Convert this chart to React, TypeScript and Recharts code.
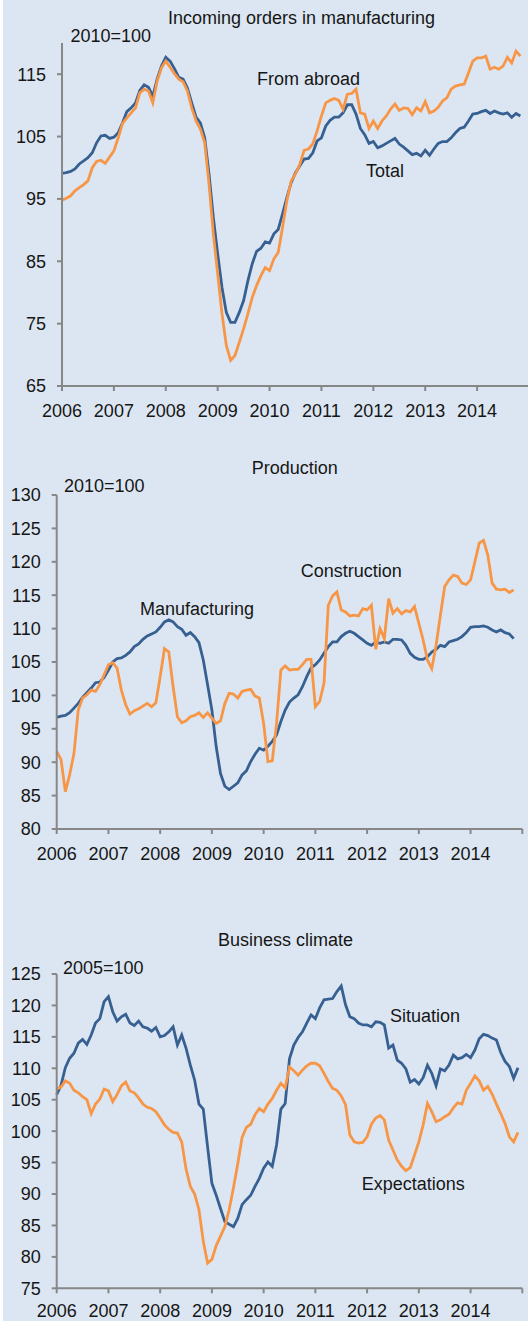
import React from "react";
import { LineChart, Line, XAxis, YAxis } from "recharts";

// monthly values, Jan 2006 onwards
const years = [2006, 2007, 2008, 2009, 2010, 2011, 2012, 2013, 2014, 2015];

const ordersTotal = [
  99.1, 99.2, 99.4, 99.8, 100.6, 101.1, 101.6, 102.4, 104.0, 105.1, 105.2, 104.7,
  104.9, 105.6, 107.2, 109.0, 109.6, 110.4, 112.4, 113.3, 112.9, 111.5, 114.2, 116.3,
  117.7, 117.1, 115.9, 114.5, 114.2, 112.8, 110.4, 108.1, 107.2, 104.8, 99.0, 92.0,
  86.2, 80.8, 76.8, 75.2, 75.2, 76.8, 78.7, 81.9, 84.6, 86.6, 87.1, 88.1,
  87.9, 89.4, 90.1, 92.6, 95.2, 97.6, 99.2, 100.3, 101.4, 101.5, 102.4, 104.3,
  104.8, 106.7, 107.6, 108.1, 108.1, 108.8, 110.1, 110.1, 108.6, 106.3, 105.3, 103.9,
  104.2, 103.2, 103.5, 103.9, 104.3, 104.7, 103.8, 103.3, 102.7, 102.1, 102.3, 101.9,
  102.8, 102.0, 103.0, 103.9, 104.2, 104.2, 104.8, 105.6, 106.3, 106.5, 107.5, 108.6,
  108.7, 109.0, 109.2, 108.7, 109.1, 108.8, 108.6, 108.8, 108.1, 108.7, 108.3,
];
const ordersAbroad = [
  94.8, 95.1, 95.5, 96.3, 96.8, 97.3, 97.9, 100.0, 101.0, 101.2, 100.7, 101.7,
  102.7, 104.8, 107.1, 108.0, 108.8, 109.6, 112.0, 112.6, 112.3, 110.4, 113.9, 116.0,
  117.1, 116.1, 115.1, 114.2, 113.8, 112.3, 109.6, 107.5, 106.2, 104.0, 97.4, 89.4,
  83.0, 76.6, 71.5, 69.1, 69.9, 72.0, 74.2, 76.6, 79.2, 81.1, 82.7, 84.0,
  83.5, 85.4, 86.4, 90.4, 94.7, 97.9, 99.0, 100.6, 102.8, 103.0, 103.8, 105.9,
  108.3, 110.4, 110.8, 111.1, 110.8, 109.4, 111.8, 111.9, 112.6, 108.8, 108.6, 106.3,
  107.5, 106.3, 107.5, 108.3, 109.4, 110.2, 109.2, 109.6, 109.5, 108.5, 109.6, 109.1,
  110.6, 108.8, 109.1, 109.7, 110.7, 111.2, 112.6, 113.1, 113.3, 113.4, 115.2, 117.1,
  117.6, 117.6, 117.9, 115.8, 116.1, 115.8, 116.3, 117.7, 116.8, 118.7, 117.9,
];

const prodManufacturing = [
  96.7, 96.9, 97.0, 97.4, 98.1, 98.8, 99.7, 100.4, 101.1, 101.9, 102.0, 102.7,
  103.8, 105.0, 105.5, 105.6, 106.0, 106.5, 107.3, 107.7, 108.4, 108.9, 109.2, 109.5,
  110.2, 111.0, 111.3, 111.0, 110.3, 109.9, 109.0, 109.4, 108.8, 107.9, 105.3, 101.6,
  97.8, 92.3, 88.3, 86.4, 85.9, 86.4, 86.9, 88.1, 88.7, 90.1, 91.2, 92.1,
  91.8, 92.4, 93.1, 94.1, 96.1, 97.8, 99.0, 99.6, 100.1, 101.3, 102.8, 104.1,
  104.6, 105.3, 106.3, 107.3, 108.0, 108.0, 108.8, 109.3, 109.6, 109.3, 108.8, 108.3,
  107.8, 107.5, 108.0, 107.8, 108.0, 107.8, 108.4, 108.4, 108.3, 107.5, 106.3, 105.7,
  105.4, 105.4, 105.8, 106.5, 106.9, 107.5, 107.3, 108.0, 108.2, 108.4, 108.8, 109.4,
  110.2, 110.3, 110.3, 110.4, 110.2, 109.8, 109.5, 109.8, 109.4, 109.2, 108.5,
];
const prodConstruction = [
  91.6, 90.4, 85.6, 88.1, 91.3, 97.8, 99.6, 100.1, 100.8, 100.6, 101.6, 103.1,
  104.6, 104.9, 104.1, 100.8, 98.6, 97.2, 97.7, 98.0, 98.4, 98.8, 98.3, 98.9,
  102.8, 107.0, 106.5, 101.3, 96.8, 95.9, 96.2, 96.8, 97.0, 97.4, 96.7, 97.4,
  96.6, 95.8, 96.2, 98.8, 100.3, 100.2, 99.6, 100.6, 100.8, 100.9, 99.9, 99.6,
  95.8, 90.1, 90.2, 95.8, 103.8, 104.4, 103.8, 103.9, 103.9, 104.6, 105.4, 105.4,
  98.3, 99.1, 101.8, 113.5, 114.9, 115.5, 112.8, 112.5, 111.9, 112.0, 111.9, 113.0,
  112.8, 113.5, 106.9, 110.0, 108.5, 114.5, 112.3, 113.0, 112.2, 112.7, 112.5, 113.3,
  110.8, 108.3, 105.3, 104.0, 107.5, 112.0, 116.3, 117.3, 118.0, 117.8, 116.8, 116.6,
  117.3, 120.0, 122.8, 123.2, 121.0, 116.8, 115.9, 115.8, 115.9, 115.4, 115.8,
];

const climateSituation = [
  105.8, 107.3, 110.1, 111.6, 112.4, 114.0, 114.6, 113.8, 115.3, 117.2, 117.9, 120.6,
  121.4, 119.0, 117.5, 118.2, 118.6, 117.2, 116.8, 117.5, 116.6, 116.4, 115.9, 116.5,
  115.0, 115.2, 115.8, 116.6, 113.7, 115.3, 113.2, 110.5, 108.1, 104.3, 103.5, 97.5,
  91.7, 89.8, 87.7, 85.6, 85.2, 84.8, 86.1, 88.3, 89.1, 89.8, 91.2, 92.5,
  94.1, 95.1, 94.4, 97.8, 103.5, 104.4, 111.5, 113.7, 114.9, 115.8, 117.2, 118.5,
  117.9, 119.6, 120.9, 121.0, 121.1, 122.2, 123.1, 120.1, 118.2, 117.9, 117.2, 116.9,
  116.9, 116.6, 117.4, 117.3, 116.9, 113.2, 113.7, 111.3, 110.8, 109.9, 107.8, 108.2,
  107.5, 108.5, 110.5, 109.2, 107.2, 109.9, 109.6, 110.5, 112.1, 111.5, 111.7, 112.2,
  111.7, 112.9, 114.7, 115.4, 115.2, 114.8, 114.5, 112.5, 111.1, 110.3, 108.4, 110.1,
];
const climateExpectations = [
  106.7, 107.0, 108.0, 107.6, 106.5, 106.1, 105.5, 105.0, 102.8, 104.3, 105.1, 106.7,
  106.4, 104.7, 105.8, 107.2, 107.8, 106.4, 106.1, 105.3, 104.3, 103.8, 103.6, 103.1,
  102.1, 101.0, 100.3, 99.8, 99.7, 98.3, 94.0, 91.2, 90.0, 87.5, 82.5, 79.0,
  79.6, 81.8, 83.3, 84.8, 87.5, 91.0, 94.8, 99.0, 100.6, 101.1, 102.6, 103.6,
  103.1, 104.3, 105.2, 106.5, 107.6, 106.9, 110.2, 109.6, 108.9, 109.7, 110.4, 110.8,
  110.8, 110.4, 109.2, 107.9, 106.8, 106.5, 105.6, 104.2, 99.4, 98.3, 98.1, 98.2,
  99.1, 101.1, 102.1, 102.5, 101.8, 98.6, 97.0, 95.4, 94.4, 93.7, 94.2, 96.2,
  98.3, 101.0, 104.4, 103.1, 101.5, 101.8, 102.3, 102.7, 103.7, 104.5, 104.3, 106.5,
  107.6, 108.8, 108.0, 106.5, 107.1, 105.9, 104.3, 102.8, 101.2, 99.1, 98.3, 99.8,
];

const ordersTicks = [65, 75, 85, 95, 105, 115];
const prodTicks = [80, 85, 90, 95, 100, 105, 110, 115, 120, 125, 130];
const climateTicks = [75, 80, 85, 90, 95, 100, 105, 110, 115, 120, 125];

const BG = "#dce6f2";
const BLUE = "#376092";
const ORANGE = "#f79646";
const AXIS = "#878787";
const INK = "#161616";
const FONT = "'Liberation Sans', Arial, sans-serif";

const rows = (a: number[], b: number[]) =>
  a.map((v, i) => ({ t: 2006 + i / 12, a: v, b: b[i] }));

type PanelProps = {
  top: number;
  width: number;
  height: number;
  margin: { top: number; right: number; bottom: number; left: number };
  yWidth: number;
  xHeight: number;
  xGap: number;
  domain: [number, number];
  ticks: number[];
  a: number[];
  b: number[];
};

function Panel({ top, width, height, margin, yWidth, xHeight, xGap, domain, ticks, a, b }: PanelProps) {
  const tick = { fontSize: 18, fill: INK, fontFamily: FONT };
  const line = { stroke: AXIS, strokeWidth: 2 };
  return (
    <div style={{ position: "absolute", left: 0, top, width, height }}>
      <LineChart width={width} height={height} data={rows(a, b)} margin={margin}>
        <XAxis
          dataKey="t"
          type="number"
          domain={[2006, 2015]}
          ticks={years}
          interval={0}
          height={xHeight}
          tickSize={5}
          tickMargin={xGap}
          axisLine={line}
          tickLine={line}
          tick={tick}
          tickFormatter={(v: number) => (v === 2015 ? "" : String(v))}
        />
        <YAxis
          type="number"
          domain={domain}
          ticks={ticks}
          interval={0}
          width={yWidth}
          tickSize={5}
          tickMargin={11}
          axisLine={line}
          tickLine={line}
          tick={tick}
        />
        <Line type="linear" dataKey="a" stroke={BLUE} strokeWidth={2.8} dot={false} isAnimationActive={false} />
        <Line type="linear" dataKey="b" stroke={ORANGE} strokeWidth={2.8} dot={false} isAnimationActive={false} />
      </LineChart>
    </div>
  );
}

export default function App() {
  return (
    <div
      style={{
        position: "absolute",
        left: 0,
        top: 0,
        width: 528,
        height: 1321,
        background: BG,
        overflow: "hidden",
        fontFamily: FONT,
      }}
    >
      <div style={{ position: "absolute", left: 0, top: 0, width: 3, height: 1321, background: "#fff" }} />
      <Panel
        top={0}
        width={532}
        height={432}
        margin={{ top: 43, right: 3, bottom: 12, left: 0 }}
        yWidth={62}
        xHeight={34}
        xGap={13}
        domain={[65, 120]}
        ticks={ordersTicks}
        a={ordersTotal}
        b={ordersAbroad}
      />
      <Panel
        top={440}
        width={528}
        height={432}
        margin={{ top: 55, right: 5.7, bottom: 12, left: 0 }}
        yWidth={56.7}
        xHeight={31}
        xGap={13}
        domain={[80, 130]}
        ticks={prodTicks}
        a={prodManufacturing}
        b={prodConstruction}
      />
      <Panel
        top={920}
        width={528}
        height={401}
        margin={{ top: 54, right: 5.7, bottom: 0, left: 0 }}
        yWidth={56.7}
        xHeight={32.7}
        xGap={11}
        domain={[75, 125]}
        ticks={climateTicks}
        a={climateSituation}
        b={climateExpectations}
      />
      <svg
        width={528}
        height={1321}
        style={{ position: "absolute", left: 0, top: 0, pointerEvents: "none" }}
        fontFamily={FONT}
        fontSize={18}
        fill={INK}
      >
        <text x={301.5} y={24.3} textAnchor="middle">Incoming orders in manufacturing</text>
        <text x={70.5} y={42}>2010=100</text>
        <text x={257} y={84.5}>From abroad</text>
        <text x={366} y={177}>Total</text>

        <text x={294.8} y={474.4} textAnchor="middle">Production</text>
        <text x={64} y={492}>2010=100</text>
        <text x={300.7} y={577.3}>Construction</text>
        <text x={140} y={615.3}>Manufacturing</text>

        <text x={285.5} y={946.3} textAnchor="middle">Business climate</text>
        <text x={63} y={974}>2005=100</text>
        <text x={390} y={1022.3}>Situation</text>
        <text x={361.7} y={1190}>Expectations</text>
      </svg>
    </div>
  );
}
